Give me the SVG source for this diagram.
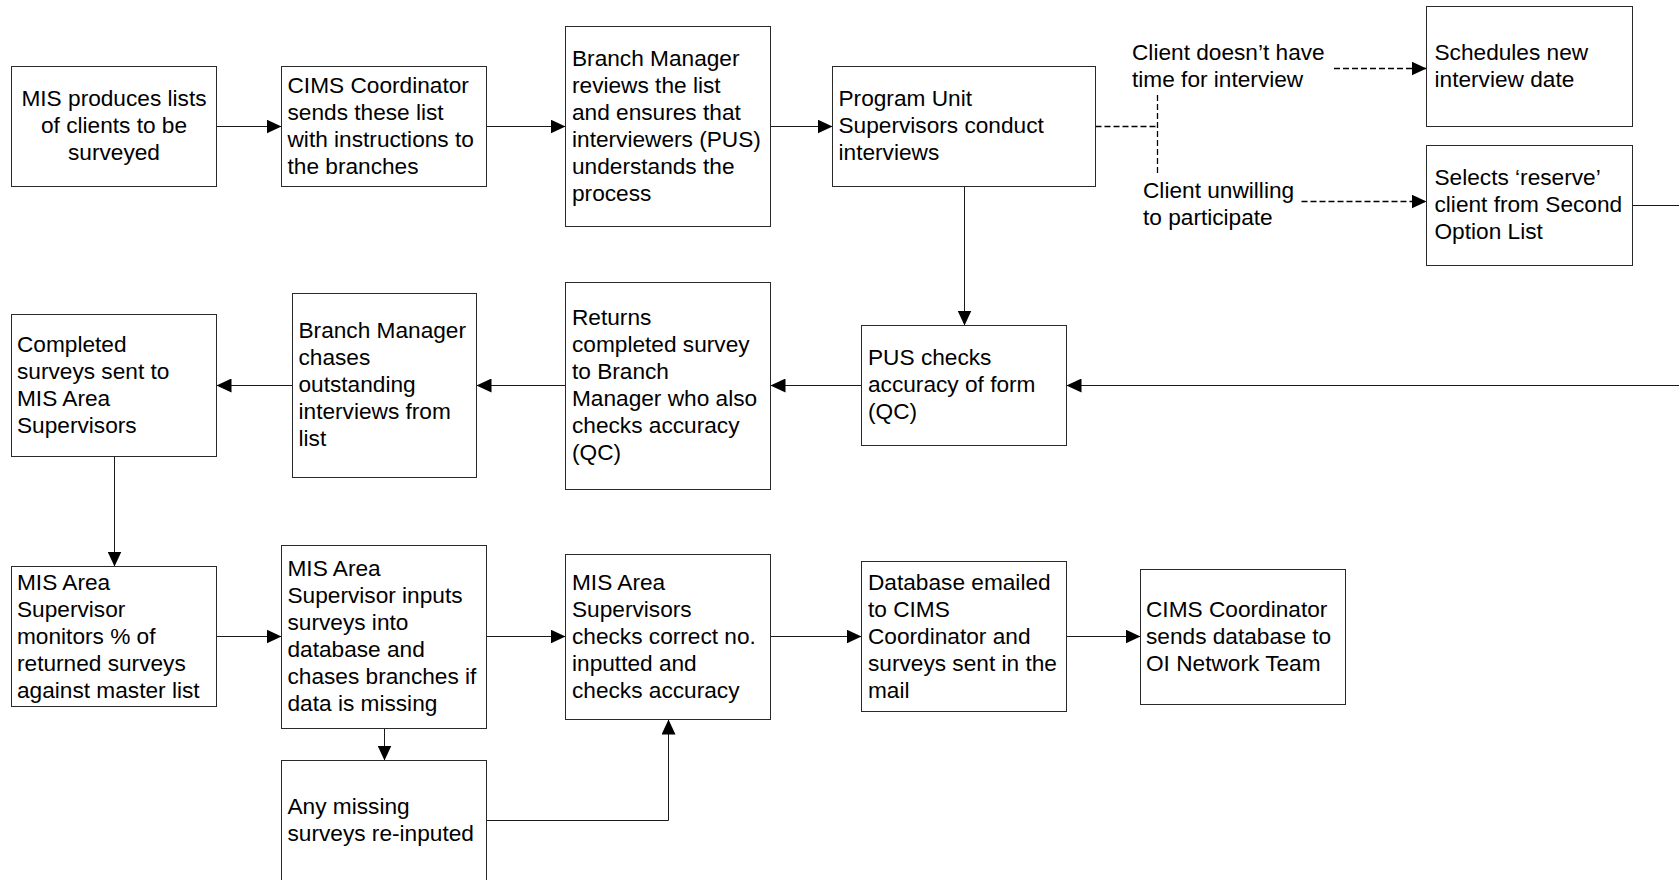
<svg xmlns="http://www.w3.org/2000/svg" width="1679" height="880" viewBox="0 0 1679 880">
  <style>
    .box { fill: #ffffff; stroke: #2a2a2a; stroke-width: 1; }
    .lbl { font-family: "Liberation Sans", Arial, sans-serif; font-size: 22.67px; fill: #000000; }
    .mid { text-anchor: middle; }
    .link { fill: none; stroke: #1a1a1a; stroke-width: 1; }
    .dash { stroke: #000000; stroke-width: 1.3; stroke-dasharray: 6 3; }
  </style>
  <defs>
    <marker id="arrow" markerUnits="userSpaceOnUse" markerWidth="15" markerHeight="14" refX="15" refY="7" orient="auto">
      <path d="M0,0 L15,7 L0,14 Z" fill="#000000"/>
    </marker>
  </defs>
  <rect width="1679" height="880" fill="#ffffff"/>

  <!-- connectors -->
  <g id="connectors">
    <path class="link" d="M216.5 126.5 H281.5" marker-end="url(#arrow)"/>
    <path class="link" d="M486.5 126.5 H565.5" marker-end="url(#arrow)"/>
    <path class="link" d="M770.5 126.5 H832.5" marker-end="url(#arrow)"/>
    <path class="link" d="M964.5 186.5 V325.5" marker-end="url(#arrow)"/>
    <path class="link dash" d="M1095.5 126.5 H1157.5"/>
    <path class="link dash" d="M1157.5 95 V173.5"/>
    <path class="link dash" d="M1334 68.5 H1426.5" marker-end="url(#arrow)"/>
    <path class="link dash" d="M1301.5 201.5 H1426.5" marker-end="url(#arrow)"/>
    <path class="link" d="M1632.5 205.5 H1700 V385.5 H1066.5" marker-end="url(#arrow)"/>
    <path class="link" d="M861.5 385.5 H770.5" marker-end="url(#arrow)"/>
    <path class="link" d="M565.5 385.5 H476.5" marker-end="url(#arrow)"/>
    <path class="link" d="M292.5 385.5 H216.5" marker-end="url(#arrow)"/>
    <path class="link" d="M114.5 456.5 V566.5" marker-end="url(#arrow)"/>
    <path class="link" d="M216.5 636.5 H281.5" marker-end="url(#arrow)"/>
    <path class="link" d="M486.5 636.5 H565.5" marker-end="url(#arrow)"/>
    <path class="link" d="M770.5 636.5 H861.5" marker-end="url(#arrow)"/>
    <path class="link" d="M1066.5 636.5 H1140.5" marker-end="url(#arrow)"/>
    <path class="link" d="M384.5 728.5 V760.5" marker-end="url(#arrow)"/>
    <path class="link" d="M486.5 820.5 H668.5 V719.5" marker-end="url(#arrow)"/>
  </g>

  <g id="branch-labels">
    <text class="lbl" x="1132" y="60">Client doesn’t have</text>
    <text class="lbl" x="1132" y="87">time for interview</text>
    <text class="lbl" x="1143" y="198">Client unwilling</text>
    <text class="lbl" x="1143" y="225">to participate</text>
  </g>

  <g id="mis-lists">
    <rect class="box" x="11.5" y="66.5" width="205" height="120"/>
    <text class="lbl mid" x="114" y="106">MIS produces lists</text>
    <text class="lbl mid" x="114" y="133">of clients to be</text>
    <text class="lbl mid" x="114" y="160">surveyed</text>
  </g>

  <g id="cims-sends-lists">
    <rect class="box" x="281.5" y="66.5" width="205" height="120"/>
    <text class="lbl" x="287.5" y="93">CIMS Coordinator</text>
    <text class="lbl" x="287.5" y="120">sends these list</text>
    <text class="lbl" x="287.5" y="147">with instructions to</text>
    <text class="lbl" x="287.5" y="174">the branches</text>
  </g>

  <g id="bm-reviews">
    <rect class="box" x="565.5" y="26.5" width="205" height="200"/>
    <text class="lbl" x="572" y="66">Branch Manager</text>
    <text class="lbl" x="572" y="93">reviews the list</text>
    <text class="lbl" x="572" y="120">and ensures that</text>
    <text class="lbl" x="572" y="147">interviewers (PUS)</text>
    <text class="lbl" x="572" y="174">understands the</text>
    <text class="lbl" x="572" y="201">process</text>
  </g>

  <g id="pus-interviews">
    <rect class="box" x="832.5" y="66.5" width="263" height="120"/>
    <text class="lbl" x="838.5" y="106">Program Unit</text>
    <text class="lbl" x="838.5" y="133">Supervisors conduct</text>
    <text class="lbl" x="838.5" y="160">interviews</text>
  </g>

  <g id="new-date">
    <rect class="box" x="1426.5" y="6.5" width="206" height="120"/>
    <text class="lbl" x="1434.5" y="60">Schedules new</text>
    <text class="lbl" x="1434.5" y="87">interview date</text>
  </g>

  <g id="reserve-client">
    <rect class="box" x="1426.5" y="145.5" width="206" height="120"/>
    <text class="lbl" x="1434.5" y="185">Selects ‘reserve’</text>
    <text class="lbl" x="1434.5" y="212">client from Second</text>
    <text class="lbl" x="1434.5" y="239">Option List</text>
  </g>

  <g id="pus-checks">
    <rect class="box" x="861.5" y="325.5" width="205" height="120"/>
    <text class="lbl" x="868" y="365">PUS checks</text>
    <text class="lbl" x="868" y="392">accuracy of form</text>
    <text class="lbl" x="868" y="419">(QC)</text>
  </g>

  <g id="returns-to-bm">
    <rect class="box" x="565.5" y="282.5" width="205" height="207"/>
    <text class="lbl" x="572" y="324.5">Returns</text>
    <text class="lbl" x="572" y="351.5">completed survey</text>
    <text class="lbl" x="572" y="378.5">to Branch</text>
    <text class="lbl" x="572" y="405.5">Manager who also</text>
    <text class="lbl" x="572" y="432.5">checks accuracy</text>
    <text class="lbl" x="572" y="459.5">(QC)</text>
  </g>

  <g id="bm-chases">
    <rect class="box" x="292.5" y="293.5" width="184" height="184"/>
    <text class="lbl" x="298.5" y="338">Branch Manager</text>
    <text class="lbl" x="298.5" y="365">chases</text>
    <text class="lbl" x="298.5" y="392">outstanding</text>
    <text class="lbl" x="298.5" y="419">interviews from</text>
    <text class="lbl" x="298.5" y="446">list</text>
  </g>

  <g id="sent-to-mis">
    <rect class="box" x="11.5" y="314.5" width="205" height="142"/>
    <text class="lbl" x="17" y="352">Completed</text>
    <text class="lbl" x="17" y="379">surveys sent to</text>
    <text class="lbl" x="17" y="406">MIS Area</text>
    <text class="lbl" x="17" y="433">Supervisors</text>
  </g>

  <g id="mis-monitors">
    <rect class="box" x="11.5" y="566.5" width="205" height="140"/>
    <text class="lbl" x="17" y="589.5">MIS Area</text>
    <text class="lbl" x="17" y="616.5">Supervisor</text>
    <text class="lbl" x="17" y="643.5">monitors % of</text>
    <text class="lbl" x="17" y="670.5">returned surveys</text>
    <text class="lbl" x="17" y="697.5">against master list</text>
  </g>

  <g id="mis-inputs">
    <rect class="box" x="281.5" y="545.5" width="205" height="183"/>
    <text class="lbl" x="287.5" y="575.5">MIS Area</text>
    <text class="lbl" x="287.5" y="602.5">Supervisor inputs</text>
    <text class="lbl" x="287.5" y="629.5">surveys into</text>
    <text class="lbl" x="287.5" y="656.5">database and</text>
    <text class="lbl" x="287.5" y="683.5">chases branches if</text>
    <text class="lbl" x="287.5" y="710.5">data is missing</text>
  </g>

  <g id="re-inputed">
    <rect class="box" x="281.5" y="760.5" width="205" height="140"/>
    <text class="lbl" x="287.5" y="814">Any missing</text>
    <text class="lbl" x="287.5" y="841">surveys re-inputed</text>
  </g>

  <g id="mis-checks">
    <rect class="box" x="565.5" y="554.5" width="205" height="165"/>
    <text class="lbl" x="572" y="589.5">MIS Area</text>
    <text class="lbl" x="572" y="616.5">Supervisors</text>
    <text class="lbl" x="572" y="643.5">checks correct no.</text>
    <text class="lbl" x="572" y="670.5">inputted and</text>
    <text class="lbl" x="572" y="697.5">checks accuracy</text>
  </g>

  <g id="db-emailed">
    <rect class="box" x="861.5" y="561.5" width="205" height="150"/>
    <text class="lbl" x="868" y="589.5">Database emailed</text>
    <text class="lbl" x="868" y="616.5">to CIMS</text>
    <text class="lbl" x="868" y="643.5">Coordinator and</text>
    <text class="lbl" x="868" y="670.5">surveys sent in the</text>
    <text class="lbl" x="868" y="697.5">mail</text>
  </g>

  <g id="to-oi-team">
    <rect class="box" x="1140.5" y="569.5" width="205" height="135"/>
    <text class="lbl" x="1146" y="616.5">CIMS Coordinator</text>
    <text class="lbl" x="1146" y="643.5">sends database to</text>
    <text class="lbl" x="1146" y="670.5">OI Network Team</text>
  </g>
</svg>
